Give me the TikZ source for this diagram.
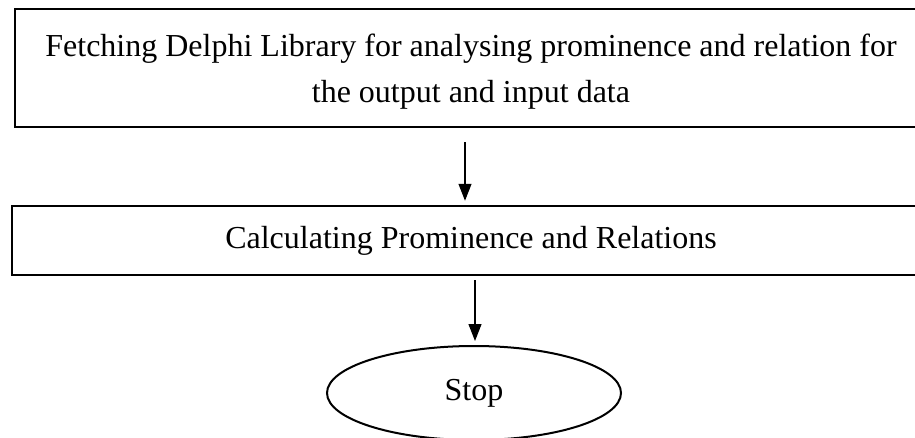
\documentclass[tikz,border=0pt]{standalone}
\usepackage{fontspec}
\setmainfont{Liberation Serif}
\usetikzlibrary{shapes.geometric,arrows.meta}
\tikzset{
  stepbox/.style={draw, line width=2.5pt, rectangle, align=center,
    font=\fontsize{32pt}{46pt}\selectfont},
  stopnode/.style={draw, line width=2pt, ellipse, inner sep=0pt,
    font=\fontsize{32pt}{46pt}\selectfont},
  flow/.style={line width=1.1pt, -{Triangle[width=13pt,length=17pt]}, shorten >=4pt}
}

\begin{document}
\begin{tikzpicture}
            \useasboundingbox (0,0) rectangle (915pt,-437pt);
            \clip (0,0) rectangle (915pt,-437pt);

            \node[stepbox, minimum width=912pt, minimum height=118pt] (fetch) at (471pt,-68pt)
                {\rule{0pt}{30pt}Fetching Delphi Library for analysing prominence and relation for\\ the output and input data};
            \node[stepbox, minimum width=918pt, minimum height=69pt] (calc) at (471pt,-240.5pt)
                {Calculating Prominence and Relations};
            \node[stopnode, minimum width=294pt, minimum height=94pt] (stop) at (474pt,-393pt) {Stop};

            \coordinate (a1) at (465pt,-142pt);
            \coordinate (a2) at (475pt,-280pt);

            \draw[flow] (a1) -- (a1 |- calc.north);
            \draw[flow] (a2) -- (a2 |- stop.north);
        \end{tikzpicture}
\end{document}
